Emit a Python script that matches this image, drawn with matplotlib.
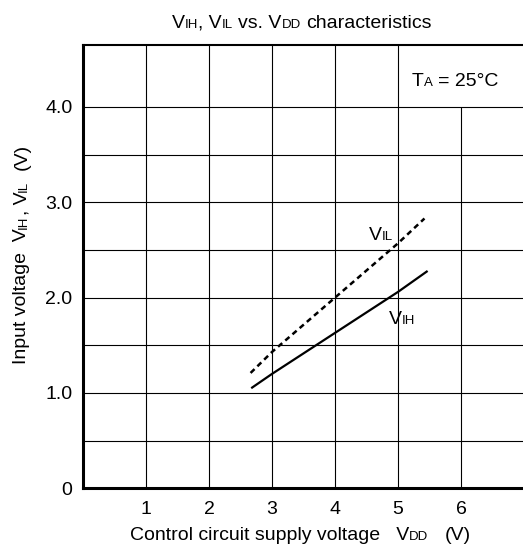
import matplotlib
matplotlib.use("Agg")
import matplotlib.pyplot as plt
import numpy as np
from matplotlib.transforms import IdentityTransform

FONT = "Liberation Sans"
BIG, SMALL = 14, 9.5

# curves
vdd_ih = [2.67, 3.0, 4.0, 5.0, 5.47]
vih = [1.05, 1.20, 1.63, 2.06, 2.28]
vdd_il = [2.66, 3.0, 4.0, 5.0, 5.42]
vil = [1.21, 1.43, 2.00, 2.57, 2.83]

x_ticks = [1, 2, 3, 4, 5, 6]
x_tick_labels = ["1", "2", "3", "4", "5", "6"]
y_ticks = [0, 1, 2, 3, 4]
y_tick_labels = ["0", "1.0", "2.0", "3.0", "4.0"]
x_grid = [1, 2, 3, 4, 5, 6]
y_grid = [0.5, 1.0, 1.5, 2.0, 2.5, 3.0, 3.5, 4.0]

plt.rcParams["font.family"] = FONT

fig = plt.figure(figsize=(5.23, 5.51), dpi=100)
ax = fig.add_axes([83 / 523, 62.7 / 551, 441 / 523, 443.3 / 551])
ax.set_xlim(0, 7)
ax.set_ylim(0, 4.65)

# grid (x=6 line stops under the T_A box)
for gx in x_grid:
    top = 4.0 if gx == 6 else 4.65
    ax.vlines(gx, 0, top, color="black", lw=0.8, zorder=1)
ax.hlines(y_grid, 0, 7, color="black", lw=0.8, zorder=1)

ax.plot(vdd_ih, vih, color="black", lw=1.6, solid_capstyle="butt", zorder=3)
ax.plot(vdd_il, vil, color="black", lw=1.8, linestyle=(0, (2.2, 1.6)), zorder=3)

ax.set_xticks(x_ticks)
ax.set_xticklabels(x_tick_labels)
ax.set_yticks(y_ticks)
ax.set_yticklabels(y_tick_labels)
ax.tick_params(axis="x", length=0, pad=9, labelsize=BIG)
ax.tick_params(axis="y", length=0, pad=7.5, labelsize=BIG)

ax.spines["right"].set_visible(False)
ax.spines["left"].set_linewidth(2.2)
ax.spines["bottom"].set_linewidth(2.2)
ax.spines["top"].set_linewidth(1.5)

renderer = fig.canvas.get_renderer()


def width(s, size):
    t = fig.text(0, 0, s, fontsize=size, family=FONT)
    w = t.get_window_extent(renderer).width
    t.remove()
    return w


def advance(s, size):
    return width("|" + s + "|", size) - width("||", size)


def rich(parts, x, y, transform, ha="left", rotation=0):
    # text made of runs with different sizes sharing one baseline
    advs = [advance(s, size) for s, size in parts]
    px, py = transform.transform((x, y))
    d = np.array([np.cos(np.radians(rotation)), np.sin(np.radians(rotation))])
    pos = np.array([px, py])
    if ha == "center":
        pos = pos - d * sum(advs) / 2
    for (s, size), a in zip(parts, advs):
        lead = s[:len(s) - len(s.lstrip())]
        off = advance(lead, size) if lead else 0
        p = pos + d * off
        if s.strip():
            fig.text(p[0], p[1], s.strip(), fontsize=size, family=FONT,
                     transform=IdentityTransform(), ha="left", va="baseline",
                     rotation=rotation, rotation_mode="anchor")
        pos = pos + d * a


H = 551
rich([("V", BIG), ("IH", SMALL), (", V", BIG), ("IL", SMALL),
      (" vs. V", BIG), ("DD", SMALL), (" characteristics", BIG)],
     302, H - 27.5, IdentityTransform(), ha="center")
rich([("Control circuit supply voltage   V", BIG), ("DD", SMALL), ("   (V)", BIG)],
     300, H - 540, IdentityTransform(), ha="center")
rich([("Input voltage  V", BIG), ("IH", SMALL), (", V", BIG), ("IL", SMALL), ("  (V)", BIG)],
     26.5, H - 254, IdentityTransform(), ha="center", rotation=90)

rich([("T", BIG), ("A", SMALL), (" = 25°C", BIG)], 5.22, 4.22, ax.transData)
rich([("V", BIG), ("IL", SMALL)], 4.54, 2.60, ax.transData)
rich([("V", BIG), ("IH", SMALL)], 4.85, 1.72, ax.transData)

fig.savefig("out.png", dpi=100)
